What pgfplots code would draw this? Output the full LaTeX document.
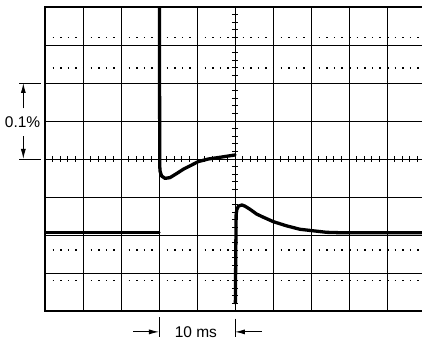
\documentclass[border=0pt]{standalone}
\usepackage{pgfplots}
\pgfplotsset{compat=1.18}
\usepackage{fontspec}
\setmainfont{Liberation Sans}
\usetikzlibrary{arrows.meta}
\newcommand{\annfont}{\fontsize{15.5}{18}\selectfont}
\begin{document}
\begin{tikzpicture}
\begin{axis}[width=380pt, height=304pt, scale only axis,
  xmin=-5, xmax=5, ymin=-4, ymax=4,
  xtick={-5,...,5}, ytick={-4,...,4}, xticklabels={}, yticklabels={},
  major tick length=0pt, grid=major,
  major grid style={black, line width=0.8pt},
  axis line style={black, line width=1.4pt},
  extra y ticks={-3.2,-2.4,2.4,3.2}, extra y tick labels={},
  extra y tick style={grid=major, major tick length=0pt,
    major grid style={black, line width=1.5pt, dash pattern=on 1.5pt off 6.1pt, line cap=butt}},
]
\coordinate (bbll) at (axis cs:-6.184,-4.789);
\coordinate (bbur) at (axis cs:4.921,4.184);
\end{axis}
\begin{axis}[width=380pt, height=304pt, scale only axis,
  xmin=-5, xmax=5, ymin=-4, ymax=4,
  axis lines=middle, axis line style={-, black, line width=0.9pt},
  xtick={-5,-4.8,...,5.01}, ytick={-4,-3.8,...,4.01},
  xticklabels={}, yticklabels={},
  major tick length=6pt, tick align=center,
  major tick style={black, line width=0.8pt},
  clip mode=individual,
]
\addplot[black, line width=3.3pt, line cap=round, line join=round] coordinates {(-5,-1.94) (-2,-1.94)};
\addplot[black, line width=3.3pt, line cap=round, line join=round] coordinates {
(-1.99,4.3) (-1.98,-0.2) (-1.97,-0.33) (-1.93,-0.45) (-1.84,-0.51) (-1.71,-0.49)
(-1.53,-0.38) (-1.36,-0.27) (-1.18,-0.18) (-0.97,-0.07) (-0.70,0.0) (-0.39,0.045) (0,0.105)};
\addplot[black, line width=3.3pt, line cap=round, line join=round] coordinates {
(0.01,-3.79) (0.02,-2.5) (0.03,-1.47) (0.05,-1.33) (0.09,-1.24) (0.18,-1.21) (0.26,-1.24)
(0.39,-1.32) (0.57,-1.45) (0.74,-1.53) (1.01,-1.65) (1.36,-1.76) (1.71,-1.85) (2.06,-1.89)
(2.41,-1.93) (2.76,-1.94) (5,-1.94)};
% 0.1% annotation
\draw[line width=0.9pt] (axis cs:-5.68,2) -- (axis cs:-5.1,2);
\draw[line width=0.9pt] (axis cs:-5.68,0) -- (axis cs:-5.1,0);
\draw[line width=0.9pt, -{Latex[length=10pt,width=5pt]}] (axis cs:-5.57,1.33) -- (axis cs:-5.57,2);
\draw[line width=0.9pt, -{Latex[length=10pt,width=5pt]}] (axis cs:-5.57,0.6) -- (axis cs:-5.57,0);
\node[font=\annfont, inner sep=0pt] at (axis cs:-5.59,0.97) {0.1\%};
% 10 ms annotation
\draw[line width=0.9pt] (axis cs:-2,-4.16) -- (axis cs:-2,-4.68);
\draw[line width=0.9pt] (axis cs:0,-4.2) -- (axis cs:0,-4.68);
\draw[line width=0.9pt, -{Latex[length=10pt,width=5pt]}] (axis cs:-2.68,-4.55) -- (axis cs:-2,-4.55);
\draw[line width=0.9pt, -{Latex[length=10pt,width=5pt]}] (axis cs:0.71,-4.55) -- (axis cs:0,-4.55);
\node[font=\annfont, inner sep=0pt] at (axis cs:-1.03,-4.55) {10 ms};
\end{axis}
\pgfresetboundingbox
\useasboundingbox (bbll) rectangle (bbur);
\end{tikzpicture}
\end{document}
